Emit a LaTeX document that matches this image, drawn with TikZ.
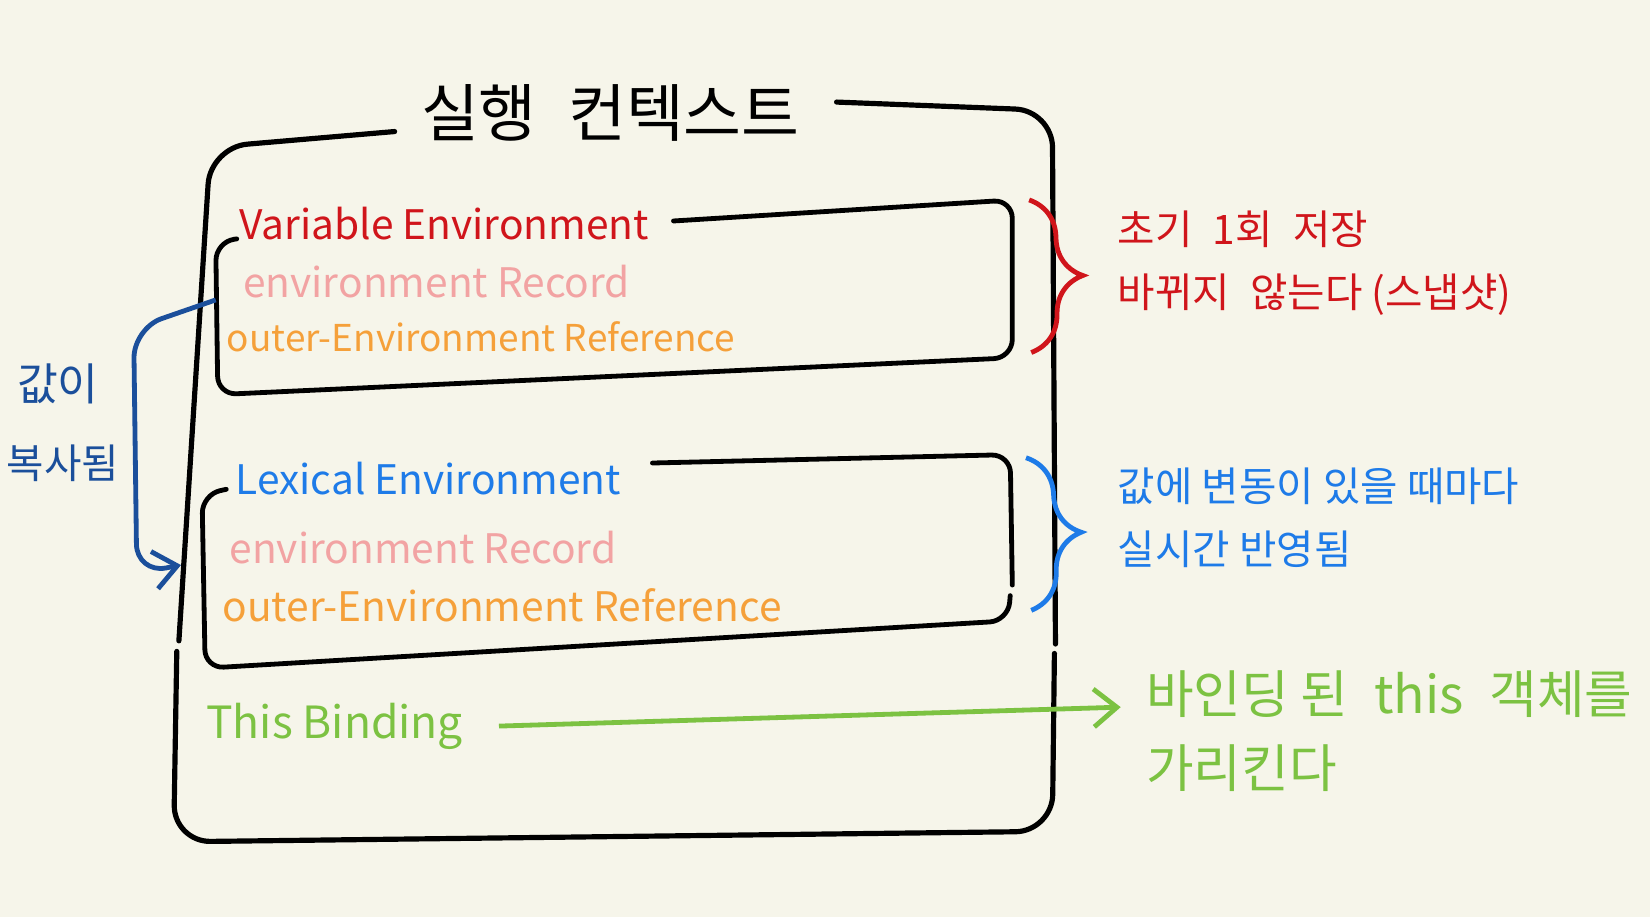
\documentclass[tikz,border=0pt]{standalone}
\usepackage{fontspec}
\setmainfont{Noto Sans CJK KR}
\usetikzlibrary{arrows.meta,decorations.pathreplacing}
\definecolor{paper}{HTML}{F6F5EA}
\definecolor{veRed}{HTML}{D0151B}
\definecolor{recPink}{HTML}{F2A3A3}
\definecolor{refOrange}{HTML}{F5A03A}
\definecolor{leBlue}{HTML}{1E7BE8}
\definecolor{bindGreen}{HTML}{7CC242}
\definecolor{copyNavy}{HTML}{1B4F9B}
\tikzset{
    frame/.style = {line width=1.4pt, rounded corners=10pt, line cap=round},
    inframe/.style = {line width=1.3pt, rounded corners=5pt, line cap=round},
    txt/.style = {inner sep=1pt, font=\fontsize{11}{13}\selectfont},
    note/.style = {txt, anchor=west, font=\fontsize{11}{13}\selectfont},
    bracepath/.style = {line width=1.3pt, decorate, decoration={brace, amplitude=0.5cm}},
    tip/.style = {-{Straight Barb[length=2.2mm, width=3.6mm]}, line width=1.3pt}
}
\begin{document}
\begin{tikzpicture}
    \fill [paper] (0, 0) rectangle (15.68, 8.71);
    \useasboundingbox (0, 0) rectangle (15.68, 8.71);

    % outer frame
    \node (title) at (5.80, 7.64) {\fontsize{17}{20}\selectfont 실행\enspace 컨텍스트};
    \draw [frame] (7.95, 7.74) -- (10.00, 7.66) -- (10.03, 2.59);
    \draw [frame] (3.75, 7.46) -- (2.00, 7.31) -- (1.70, 2.62);
    \draw [frame] (1.68, 2.52) -- (1.65, 0.71) -- (10.00, 0.81) -- (10.02, 2.50);

    % variable environment
    \node [txt, text=veRed] (veHead) at (4.22, 6.59) {Variable Environment};
    \node [txt, text=recPink] (veRec) at (4.15, 6.03) {environment Record};
    \node [txt, text=refOrange, font=\fontsize{10}{12}\selectfont] (veRef) at (4.57, 5.51) {outer-Environment Reference};
    \draw [inframe] (2.25, 6.44) -- (2.05, 6.41) -- (2.07, 4.96) -- (9.62, 5.31) -- (9.62, 6.81) -- (6.40, 6.61);

    % lexical environment
    \node [txt, text=leBlue] (leHead) at (4.07, 4.16) {Lexical Environment};
    \node [txt, text=recPink] (leRec) at (4.02, 3.51) {environment Record};
    \node [txt, text=refOrange] (leRef) at (4.77, 2.96) {outer-Environment Reference};
    \draw [inframe] (6.20, 4.31) -- (9.60, 4.39) -- (9.62, 3.15);
    \draw [inframe] (9.60, 3.05) -- (9.58, 2.81) -- (1.95, 2.36) -- (1.92, 4.01) -- (2.15, 4.06);

    % this binding
    \node [txt, text=bindGreen, font=\fontsize{12}{14}\selectfont] (thisB) at (3.18, 1.81) {This Binding};

    % notes on the right
    \draw [bracepath, veRed] (9.78, 6.81) -- (9.80, 5.36);
    \node [note, text=veRed] (veNoteA) at (10.58, 6.53) {초기\enspace 1회\enspace 저장};
    \node [note, text=veRed] (veNoteB) at (10.58, 5.91) {바뀌지\enspace 않는다 (스냅샷)};
    \draw [bracepath, leBlue] (9.75, 4.36) -- (9.80, 2.91);
    \node [note, text=leBlue] (leNoteA) at (10.58, 4.09) {값에 변동이 있을 때마다};
    \node [note, text=leBlue] (leNoteB) at (10.58, 3.49) {실시간 반영됨};
    \node [note, text=bindGreen, font=\fontsize{14}{16}\selectfont] (bound) at (10.85, 2.11) {바인딩 된\enspace this\enspace 객체를};
    \node [note, text=bindGreen, font=\fontsize{14}{16}\selectfont] (boundB) at (10.85, 1.41) {가리킨다};
    \coordinate (bindTip) at (10.65, 1.99);
    \draw [tip, bindGreen] ([xshift=0.3cm]thisB.east) -- (bindTip);

    % copied values
    \node [txt, text=copyNavy, font=\fontsize{12}{14}\selectfont] (copyA) at (0.55, 5.06) {값이};
    \node [txt, text=copyNavy] (copyB) at (0.60, 4.31) {복사됨};
    \coordinate (copyFrom) at (2.05, 5.86);
    \coordinate (copyTo) at (1.72, 3.34);
    \draw [tip, copyNavy, rounded corners=8pt] (copyFrom) -- (1.27, 5.59) -- (1.30, 3.26) -- (copyTo);
\end{tikzpicture}
\end{document}
